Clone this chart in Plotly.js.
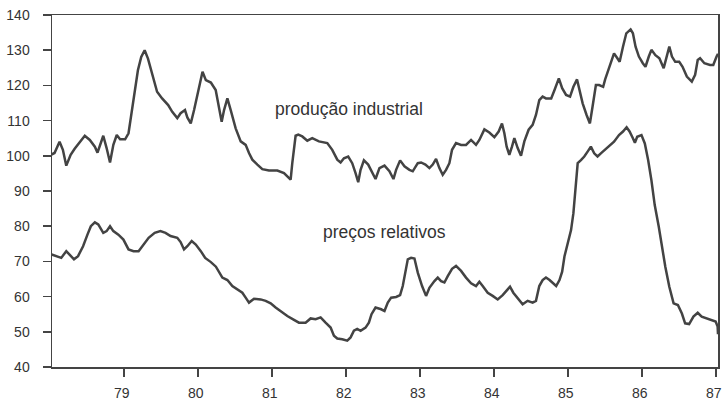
<!DOCTYPE html>
<html>
<head>
<meta charset="utf-8">
<script src="https://cdn.plot.ly/plotly-3.0.1.min.js"></script>
<style>
html,body{margin:0;padding:0;background:#fff;}
#chart{width:722px;height:403px;}
</style>
</head>
<body>
<div id="chart"></div>
<script>
// Produção industrial (decimal years, index values)
const piYears = [78.018,78.064,78.132,78.177,78.223,78.282,78.336,78.405,78.473,78.541,78.609,78.645,78.677,78.723,78.768,78.814,78.859,78.905,78.95,79.018,79.064,79.1,79.145,79.191,79.236,79.282,79.327,79.382,79.45,79.518,79.6,79.655,79.723,79.768,79.827,79.859,79.905,79.95,80.009,80.064,80.109,80.177,
80.242,80.287,80.323,80.355,80.4,80.445,80.512,80.58,80.647,80.692,80.737,80.805,80.872,80.962,81.075,81.165,81.21,81.255,81.277,81.322,81.358,81.412,81.48,81.547,81.637,81.75,81.817,81.885,81.93,81.975,82.033,82.087,82.132,82.168,82.2,82.245,82.303,82.357,82.402,
82.455,82.523,82.59,82.644,82.68,82.734,82.793,82.86,82.905,82.973,83.018,83.076,83.13,83.175,83.22,83.265,83.31,83.355,83.4,83.436,83.49,83.558,83.625,83.693,83.76,83.805,83.873,83.94,84.008,84.066,84.111,84.143,84.174,84.21,84.246,84.278,84.323,84.368,84.413,84.471,84.525,84.57,84.615,84.66,84.705,
84.776,84.821,84.879,84.924,84.977,85.031,85.076,85.125,85.156,85.201,85.254,85.299,85.335,85.38,85.424,85.478,85.505,85.558,85.625,85.67,85.701,85.746,85.791,85.849,85.88,85.916,85.961,86.014,86.05,86.095,86.13,86.184,86.238,86.296,86.34,86.372,86.408,86.452,86.506,86.551,86.609,86.676,86.721,86.756,86.788,86.846,86.922,86.966,87.011,87.03];
const piValues = [100.3,100.8,104,101.7,97.2,100.3,102,104,105.7,104.5,102.6,100.9,103.1,105.7,102.2,98.1,103.1,105.9,104.7,104.7,106.4,111.1,117.7,124.3,128.1,130,127.6,123.4,118.2,116.3,114.4,112.5,110.7,112.1,113,110.9,109.2,113,118.7,123.9,121.5,120.8,
118.7,114,109.7,113,116.3,113,107.8,104.1,103.1,100.8,98.9,97.5,96.2,95.8,95.8,95.1,94.2,93.2,97.9,105.7,106,105.5,104.3,105,104.1,103.6,101.7,98.9,98.1,99.3,99.8,97.9,95.1,92.5,96,98.7,97.5,95.1,93.4,
96.5,97.2,95.6,93.4,96,98.7,97,96,95.6,97.9,98.1,97.5,96.5,97.5,99.1,96.5,94.6,96,97.9,101.7,103.6,103.1,103.1,104.5,103.1,104.5,107.5,106.6,105.3,106.9,109.2,106.4,102.6,100.3,102.6,105,102.2,100,104.1,107.4,108.8,111.6,115.8,116.8,116.3,
116.3,118.7,122,119.2,117.3,116.8,119.6,121.7,118.7,114.9,111.6,109.2,114,120.1,120.1,119.6,121.7,124.9,129.1,127.7,126.7,131,134.8,135.9,134.8,131,128.2,126.3,125.3,128.2,130.1,128.6,127.7,124.9,128.6,131,128.2,126.7,126.7,125.3,122.5,121.1,123,127.2,127.7,126.3,125.8,125.8,128.2,129];

// Preços relativos
const prYears = [78.018,78.064,78.109,78.155,78.223,78.268,78.327,78.382,78.45,78.509,78.555,78.609,78.655,78.723,78.768,78.814,78.859,78.927,78.995,79.064,79.132,79.2,79.268,79.336,79.418,79.495,79.564,79.632,79.723,79.768,79.814,79.859,79.918,79.973,80.041,80.1,80.177,80.245,
80.332,80.4,80.467,80.535,80.602,80.647,80.692,80.76,80.85,80.917,80.985,81.052,81.142,81.21,81.3,81.367,81.457,81.525,81.592,81.66,81.727,81.795,81.84,81.885,81.952,82.02,82.065,82.11,82.155,82.2,82.267,82.312,82.348,82.402,
82.478,82.523,82.568,82.613,82.68,82.734,82.77,82.806,82.838,82.883,82.928,82.973,83.031,83.085,83.13,83.198,83.243,83.288,83.333,83.378,83.436,83.49,83.558,83.625,83.693,83.76,83.805,83.85,83.918,83.985,84.053,84.12,84.174,84.219,84.264,84.323,84.39,84.458,84.525,84.57,84.615,84.66,84.705,
84.754,84.798,84.843,84.888,84.924,84.955,85.0,85.044,85.076,85.102,85.134,85.178,85.223,85.268,85.312,85.357,85.402,85.447,85.505,85.558,85.625,85.692,85.746,85.795,85.835,85.88,85.907,85.938,85.996,86.041,86.086,86.13,86.175,86.229,86.273,86.318,86.372,86.43,86.488,86.542,86.586,86.64,86.698,86.756,86.81,86.877,86.944,86.998,87.025,87.03];
const prValues = [72,71.7,71.5,71,72.9,72,70.6,71.5,74.3,77.6,80,81.1,80.5,78.1,78.6,80,78.6,77.6,76.2,73.4,72.9,72.9,74.8,76.7,78.1,78.6,78.1,77.2,76.7,75.5,73.4,74.3,75.8,74.8,72.9,71,69.8,68.5,
65.4,64.7,63,62.1,61.1,59.7,58.3,59.4,59.2,58.8,58.1,56.9,55.5,54.5,53.4,52.6,52.6,53.8,53.6,54.1,52.6,51.2,48.9,48.1,47.9,47.5,48.4,50.3,50.8,50.3,51.2,52.6,55,56.9,
56.4,55.9,58.3,59.7,59.9,60.4,63,67.7,70.6,71,70.8,66.8,63,60.2,62.5,64.4,65.4,64.4,64,65.8,67.9,68.7,67.3,65.4,63.8,63,64.2,63,61.1,60.2,59.2,60.4,61.6,62.8,61.1,59.7,57.8,58.8,58.3,58.8,63,64.7,65.4,
64.7,63.8,63,64.7,67.1,71.4,75.1,78.9,83.7,91.2,97.9,98.8,99.8,101.2,102.6,100.7,99.8,100.7,101.7,102.6,104,105.9,106.9,108.1,106.9,105,103.7,105.4,105.9,103.5,98.8,93.1,86,79.9,74.2,68.5,62.8,58.1,57.6,55.2,52.4,52.2,54.3,55.4,54.3,53.8,53.5,52.9,51.5,49.3];

const xTickVals = [79,80,81,82,83,84,85,86,87];
const xTickText = ['79','80','81','82','83','84','85','86','87'];
const yTickVals = [40,50,60,70,80,90,100,110,120,130,140];

const labelPI = 'produção industrial';
const labelPR = 'preços relativos';

const lineStyle = {color:'#434343', width:2.5};
const fontFamily = '"Liberation Sans", Arial, Helvetica, sans-serif';

const traces = [
  {x:piYears, y:piValues, type:'scatter', mode:'lines', line:lineStyle, hoverinfo:'skip'},
  {x:prYears, y:prValues, type:'scatter', mode:'lines', line:lineStyle, hoverinfo:'skip'}
];

const layout = {
  width:722, height:403,
  margin:{l:52, r:4, t:15, b:36, pad:0},
  paper_bgcolor:'#ffffff', plot_bgcolor:'#ffffff',
  showlegend:false,
  font:{family:fontFamily, color:'#333', size:14},
  xaxis:{
    range:[78.03, 87.03], tickvals:xTickVals, ticktext:xTickText,
    ticks:'outside', ticklen:8, tickwidth:1.5, tickcolor:'#444',
    showline:true, linecolor:'#444', linewidth:1.5, mirror:true,
    showgrid:false, zeroline:false,
    tickfont:{family:fontFamily, size:14, color:'#333'},
    ticklabelstandoff:5, ticklabelshift:-2, ticklabeloverflow:'allow'
  },
  yaxis:{
    range:[40, 140], tickvals:yTickVals,
    ticks:'outside', ticklen:8, tickwidth:1.5, tickcolor:'#444',
    showline:true, linecolor:'#444', linewidth:1.5, mirror:true,
    showgrid:false, zeroline:false,
    tickfont:{family:fontFamily, size:14, color:'#333'},
    ticklabelstandoff:10, ticklabeloverflow:'allow'
  },
  annotations:[
    {x:82.05, y:113.3, xref:'x', yref:'y', text:labelPI, showarrow:false,
     font:{family:fontFamily, size:17.5, color:'#333'}},
    {x:82.52, y:78.4, xref:'x', yref:'y', text:labelPR, showarrow:false,
     font:{family:fontFamily, size:17.5, color:'#333'}}
  ]
};

Plotly.newPlot('chart', traces, layout, {displayModeBar:false, staticPlot:true});
</script>
</body>
</html>
